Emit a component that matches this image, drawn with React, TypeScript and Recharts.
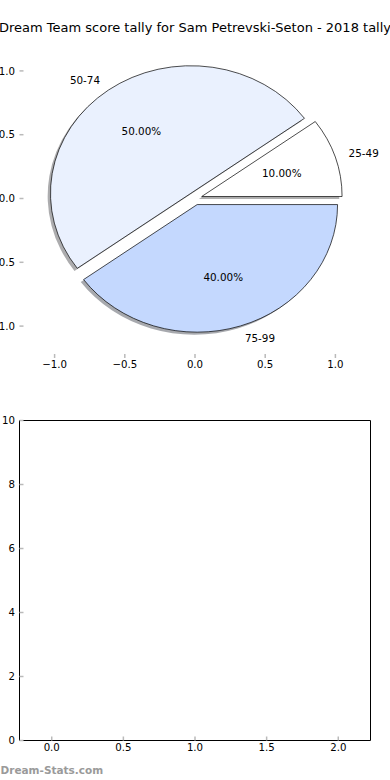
import React from "react";
import { PieChart, Pie, ScatterChart, Scatter, XAxis, YAxis } from "recharts";

// score bands, going counter-clockwise from 3 o'clock
const scoreBands = ["25-49", "50-74", "75-99"];
const bandShares = [10, 50, 40];
const bandColors = ["#ffffff", "#eaf1fe", "#c4d8fe"];
const explodeBy = [0.05, 0.05, 0.05];

const pieTicks = [-1, -0.5, 0, 0.5, 1];
const lowerXTicks = [0, 0.5, 1, 1.5, 2];
const lowerYTicks = [0, 2, 4, 6, 8, 10];
const lowerPoints: { x: number; y: number }[] = [];

const titleText = "Dream Team score tally for Sam Petrevski-Seton - 2018 tally";

const pieRows = scoreBands.map((band, i) => ({ band, share: bandShares[i] }));

// top axes box in px (matplotlib style axes, non-equal aspect)
const AX_LEFT = 19.5;
const AX_W = 351;
const AX_H = 319;
const SPAN = 2.5;
const unitX = AX_W / SPAN;
const squash = AX_H / AX_W;

const RAD = Math.PI / 180;
const FONT = "DejaVu Sans, sans-serif";
const tickGrey = "#bababa";

const fmtTick = (v: number) => v.toFixed(1).replace("-", "\u2212");

function wedgePath(cx: number, cy: number, rx: number, ry: number, a0: number, a1: number) {
  const x0 = cx + rx * Math.cos(a0 * RAD);
  const y0 = cy - ry * Math.sin(a0 * RAD);
  const x1 = cx + rx * Math.cos(a1 * RAD);
  const y1 = cy - ry * Math.sin(a1 * RAD);
  const large = a1 - a0 > 180 ? 1 : 0;
  return `M${cx},${cy} L${x0},${y0} A${rx},${ry} 0 ${large} 0 ${x1},${y1} Z`;
}

function shadeOf(hex: string) {
  const n = parseInt(hex.slice(1), 16);
  const r = Math.round(((n >> 16) & 255) * 0.3);
  const g = Math.round(((n >> 8) & 255) * 0.3);
  const b = Math.round((n & 255) * 0.3);
  return `rgb(${r},${g},${b})`;
}

// matplotlib wedges are circles in data space, so ellipses on screen
function wedgeGeom(props: any) {
  const { cx, cy, outerRadius, startAngle, endAngle, index } = props;
  const rx = outerRadius;
  const ry = outerRadius * squash;
  const mid = (startAngle + endAngle) / 2;
  const e = explodeBy[index];
  const ox = cx + e * rx * Math.cos(mid * RAD);
  const oy = cy - e * ry * Math.sin(mid * RAD);
  return { rx, ry, mid, ox, oy, startAngle, endAngle, index };
}

const renderShadow = (props: any) => {
  const g = wedgeGeom(props);
  const c = shadeOf(bandColors[g.index]);
  return (
    <path
      d={wedgePath(g.ox - 0.02 * g.rx, g.oy + 0.02 * g.ry, g.rx, g.ry, g.startAngle, g.endAngle)}
      fill={c}
      fillOpacity={0.45}
      stroke="none"
    />
  );
};

const renderWedge = (props: any) => {
  const g = wedgeGeom(props);
  const cos = Math.cos(g.mid * RAD);
  const sin = Math.sin(g.mid * RAD);
  const lx = g.ox + 1.1 * g.rx * cos;
  const ly = g.oy - 1.1 * g.ry * sin;
  const px = g.ox + 0.6 * g.rx * cos;
  const py = g.oy - 0.6 * g.ry * sin;
  return (
    <g>
      <path
        d={wedgePath(g.ox, g.oy, g.rx, g.ry, g.startAngle, g.endAngle)}
        fill={bandColors[g.index]}
        stroke="#000"
        strokeWidth={0.7}
      />
      <text x={px} y={py} textAnchor="middle" dominantBaseline="central" fontSize={10.4} fontFamily={FONT} fill="#000">
        {(props.percent * 100).toFixed(2)}%
      </text>
      <text x={lx} y={ly} textAnchor={lx > props.cx ? "start" : "end"} dominantBaseline="central" fontSize={10.4} fontFamily={FONT} fill="#000">
        {scoreBands[g.index]}
      </text>
    </g>
  );
};

const tickFont = { fontSize: 10.2, fill: "#000", fontFamily: FONT };
const tickLine = { stroke: tickGrey, strokeWidth: 1.5 };
const frame = { stroke: "#000", strokeWidth: 1 };

export default function App() {
  return (
    <div style={{ position: "absolute", left: 0, top: 0, width: 390, height: 780, background: "#fff", fontFamily: FONT }}>
      {/* top panel: axes ticks only, frame hidden */}
      <div style={{ position: "absolute", left: 0, top: 0 }}>
        <ScatterChart width={390} height={400} margin={{ top: 38, right: 18.5, bottom: 0, left: 0 }}>
          <XAxis xAxisId="b" dataKey="x" type="number" domain={[-1.25, 1.25]} allowDataOverflow ticks={pieTicks} interval={0} height={42}
            axisLine={false} tickSize={-4} tickMargin={7} tickLine={tickLine} tick={tickFont} tickFormatter={fmtTick} />
          <XAxis xAxisId="t" dataKey="x" orientation="top" type="number" domain={[-1.25, 1.25]} allowDataOverflow ticks={pieTicks} interval={0} height={1}
            axisLine={false} tickSize={-4} tickLine={tickLine} tick={false} />
          <YAxis yAxisId="l" dataKey="y" type="number" domain={[-1.25, 1.25]} allowDataOverflow ticks={pieTicks} interval={0} width={AX_LEFT}
            axisLine={false} tickSize={-4} tickMargin={8.5} tickLine={tickLine} tick={tickFont} tickFormatter={fmtTick} />
          <YAxis yAxisId="r" dataKey="y" orientation="right" type="number" domain={[-1.25, 1.25]} allowDataOverflow ticks={pieTicks} interval={0} width={1}
            axisLine={false} tickSize={-4} tickLine={tickLine} tick={false} />
          <Scatter data={lowerPoints} xAxisId="b" yAxisId="l" isAnimationActive={false} />
          <Scatter data={lowerPoints} xAxisId="t" yAxisId="r" isAnimationActive={false} />
        </ScatterChart>
      </div>
      <div style={{ position: "absolute", left: 0, top: 0 }}>
        <PieChart width={390} height={400} margin={{ top: 0, right: 0, bottom: 0, left: 0 }}>
          <Pie data={pieRows} dataKey="share" nameKey="band" cx={AX_LEFT + AX_W / 2} cy={39 + AX_H / 2}
            outerRadius={unitX} startAngle={0} endAngle={360} fill="none" stroke="none"
            labelLine={false} label={renderShadow} isAnimationActive={false} />
          <Pie data={pieRows} dataKey="share" nameKey="band" cx={AX_LEFT + AX_W / 2} cy={39 + AX_H / 2}
            outerRadius={unitX} startAngle={0} endAngle={360} fill="none" stroke="none"
            labelLine={false} label={renderWedge} isAnimationActive={false} />
        </PieChart>
      </div>

      {/* bottom panel: empty axes */}
      <div style={{ position: "absolute", left: 0, top: 400 }}>
        <ScatterChart width={390} height={380} margin={{ top: 19.5, right: 18.5, bottom: 0, left: 0 }}>
          <XAxis xAxisId="b" dataKey="x" type="number" domain={[-0.225, 2.225]} allowDataOverflow ticks={lowerXTicks} interval={0} height={39.5}
            axisLine={frame} tickSize={-4} tickMargin={7} tickLine={tickLine} tick={tickFont}
            tickFormatter={(v: number) => v.toFixed(1)} />
          <XAxis xAxisId="t" dataKey="x" orientation="top" type="number" domain={[-0.225, 2.225]} allowDataOverflow ticks={lowerXTicks} interval={0} height={1}
            axisLine={frame} tickSize={-4} tickLine={tickLine} tick={false} />
          <YAxis yAxisId="l" dataKey="y" type="number" domain={[0, 10]} allowDataOverflow ticks={lowerYTicks} interval={0} width={AX_LEFT}
            axisLine={frame} tickSize={-4} tickMargin={8.5} tickLine={tickLine} tick={tickFont} />
          <YAxis yAxisId="r" dataKey="y" orientation="right" type="number" domain={[0, 10]} allowDataOverflow ticks={lowerYTicks} interval={0} width={1}
            axisLine={frame} tickSize={-4} tickLine={tickLine} tick={false} />
          <Scatter data={lowerPoints} xAxisId="b" yAxisId="l" isAnimationActive={false} />
          <Scatter data={lowerPoints} xAxisId="t" yAxisId="r" isAnimationActive={false} />
        </ScatterChart>
      </div>

      <svg width={390} height={780} style={{ position: "absolute", left: 0, top: 0, pointerEvents: "none" }}>
        <text x={195} y={31.5} textAnchor="middle" fontSize={13} fontFamily={FONT} fill="#000">
          {titleText}
        </text>
        <text x={0.5} y={774} fontSize={10.5} fontWeight="bold" fontFamily={FONT} fill="#9a9a9a">
          Dream-Stats.com
        </text>
      </svg>
    </div>
  );
}
